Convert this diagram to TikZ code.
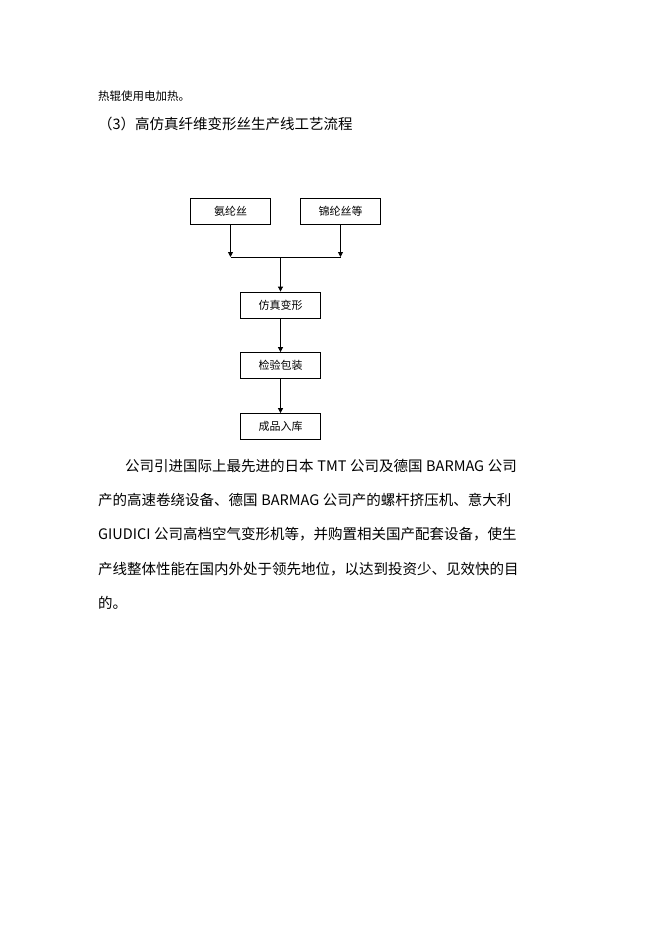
\documentclass[tikz,border=0pt]{standalone}
\usepackage{fontspec}
\setmainfont{Liberation Serif}
\newfontfamily\cjk{Noto Sans CJK SC}
\usetikzlibrary{arrows.meta}
\begin{document}
\begin{tikzpicture}[x=1pt,y=-1pt,
  box/.style={draw,line width=0.8pt,minimum width=80pt,minimum height=26pt,inner sep=0pt,font=\cjk\fontsize{11}{12}\selectfont},
  arr/.style={line width=0.8pt,-{Triangle[length=5pt,width=5pt]}},
  ln/.style={anchor=west,inner sep=0pt,font=\cjk\fontsize{14.5}{16}\selectfont}]
\useasboundingbox[fill=white] (0,0) rectangle (662,936);
\node[anchor=west,inner sep=0pt,font=\cjk\fontsize{11.5}{12}\selectfont] (t1) at (98,96) {热辊使用电加热。};
\node[anchor=west,inner sep=0pt,font=\cjk\fontsize{14.5}{16}\selectfont] (t2) at (98,124) {（3）高仿真纤维变形丝生产线工艺流程};
\node[box] (a) at (230.5,211) {氨纶丝};
\node[box] (b) at (340.5,211) {锦纶丝等};
\node[box] (c) at (280.5,305) {仿真变形};
\node[box] (d) at (280.5,365.5) {检验包装};
\node[box] (e) at (280.5,426.5) {成品入库};
\coordinate (ja) at (a.south |- 0,257);
\coordinate (jb) at (b.south |- 0,257);
\coordinate (jm) at (c.north |- 0,257);
\draw[arr] (a.south) -- (ja);
\draw[arr] (b.south) -- (jb);
\draw[line width=0.8pt] (ja) -- (jb);
\draw[arr] (jm) -- (c.north);
\draw[arr] (c.south) -- (d.north);
\draw[arr] (d.south) -- (e.north);
\node[ln] (p1) at (125,466) {公司引进国际上最先进的日本{\rmfamily\ }TMT{\rmfamily\ }公司及德国{\rmfamily\ }BARMAG{\rmfamily\ }公司};
\node[ln] (p2) at (98,500) {产的高速卷绕设备、德国{\rmfamily\ }BARMAG{\rmfamily\ }公司产的螺杆挤压机、意大利};
\node[ln] (p3) at (98,534) {GIUDICI{\rmfamily\ }公司高档空气变形机等，并购置相关国产配套设备，使生};
\node[ln] (p4) at (98,569) {产线整体性能在国内外处于领先地位，以达到投资少、见效快的目};
\node[ln] (p5) at (98,603) {的。};
\end{tikzpicture}
\end{document}
